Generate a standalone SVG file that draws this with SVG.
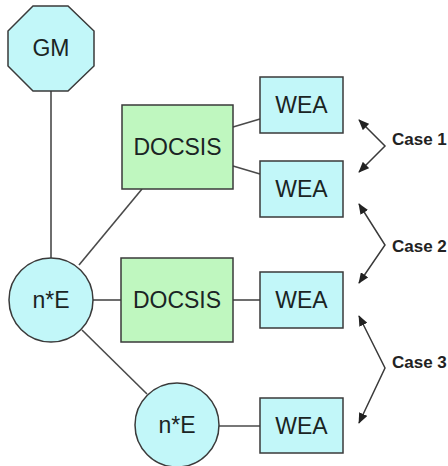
<svg xmlns="http://www.w3.org/2000/svg" width="448" height="466" viewBox="0 0 448 466">
  <defs>
    <style>
      .wea { fill: #c2f7f9; stroke: #3a3a3a; stroke-width: 1.5; }
      .docsis { fill: #bff7bf; stroke: #3a3a3a; stroke-width: 1.5; }
      .lbl { font-family: "Liberation Sans", Arial, Helvetica, sans-serif; font-size: 23px; fill: #1a2424; text-anchor: middle; }
      .case { font-family: "Liberation Sans", Arial, Helvetica, sans-serif; font-size: 17px; font-weight: bold; fill: #222; }
      .link { stroke: #4a4a4a; stroke-width: 1.6; fill: none; }
      .brace { stroke: #3a3a3a; stroke-width: 1.5; fill: none; marker-start: url(#head); marker-end: url(#head); }
    </style>
    <marker id="head" viewBox="0 0 12 10" refX="11" refY="5" markerWidth="11" markerHeight="9" markerUnits="userSpaceOnUse" orient="auto-start-reverse">
      <path d="M0,0 L12,5 L0,10 Z" fill="#222"/>
    </marker>
  </defs>

  <rect width="448" height="466" fill="#ffffff"/>

  <!-- connectors -->
  <g id="connectors">
    <line class="link" x1="51" y1="91" x2="51" y2="258"/>
    <line class="link" x1="142" y1="189" x2="79" y2="265"/>
    <line class="link" x1="233" y1="127" x2="260" y2="119"/>
    <line class="link" x1="233" y1="166" x2="260" y2="174"/>
    <line class="link" x1="93" y1="300" x2="121" y2="300"/>
    <line class="link" x1="233" y1="300" x2="260" y2="300"/>
    <line class="link" x1="82" y1="330" x2="147" y2="394"/>
    <line class="link" x1="219" y1="426" x2="260" y2="426"/>
  </g>

  <!-- case brackets -->
  <g id="cases">
    <path class="brace" d="M359,120 L385,146 L359,172"/>
    <path class="brace" d="M359,204 L385,245 L359,283"/>
    <path class="brace" d="M359,316 L385,368 L359,423"/>
    <text class="case" x="392" y="145">Case 1</text>
    <text class="case" x="392" y="252">Case 2</text>
    <text class="case" x="392" y="368">Case 3</text>
  </g>

  <g id="gm">
    <polygon class="wea" points="33,6 68,6 94,31 94,66 68,91 33,91 8,66 8,31"/>
    <text class="lbl" x="51" y="56">GM</text>
  </g>

  <g id="ne-top">
    <circle class="wea" cx="51" cy="300" r="42"/>
    <text class="lbl" x="51" y="308">n*E</text>
  </g>

  <g id="ne-bottom">
    <circle class="wea" cx="177" cy="425" r="42"/>
    <text class="lbl" x="177" y="433">n*E</text>
  </g>

  <g id="docsis-top">
    <rect class="docsis" x="122" y="105" width="111" height="84"/>
    <text class="lbl" x="177.5" y="155">DOCSIS</text>
  </g>

  <g id="docsis-mid">
    <rect class="docsis" x="121" y="258" width="112" height="84"/>
    <text class="lbl" x="177" y="308">DOCSIS</text>
  </g>

  <g id="wea-1">
    <rect class="wea" x="260" y="77" width="83" height="56"/>
    <text class="lbl" x="301.5" y="113">WEA</text>
  </g>

  <g id="wea-2">
    <rect class="wea" x="260" y="161" width="83" height="56"/>
    <text class="lbl" x="301.5" y="197">WEA</text>
  </g>

  <g id="wea-3">
    <rect class="wea" x="260" y="272" width="83" height="56"/>
    <text class="lbl" x="301.5" y="308">WEA</text>
  </g>

  <g id="wea-4">
    <rect class="wea" x="260" y="398" width="83" height="55"/>
    <text class="lbl" x="301.5" y="434">WEA</text>
  </g>
</svg>
